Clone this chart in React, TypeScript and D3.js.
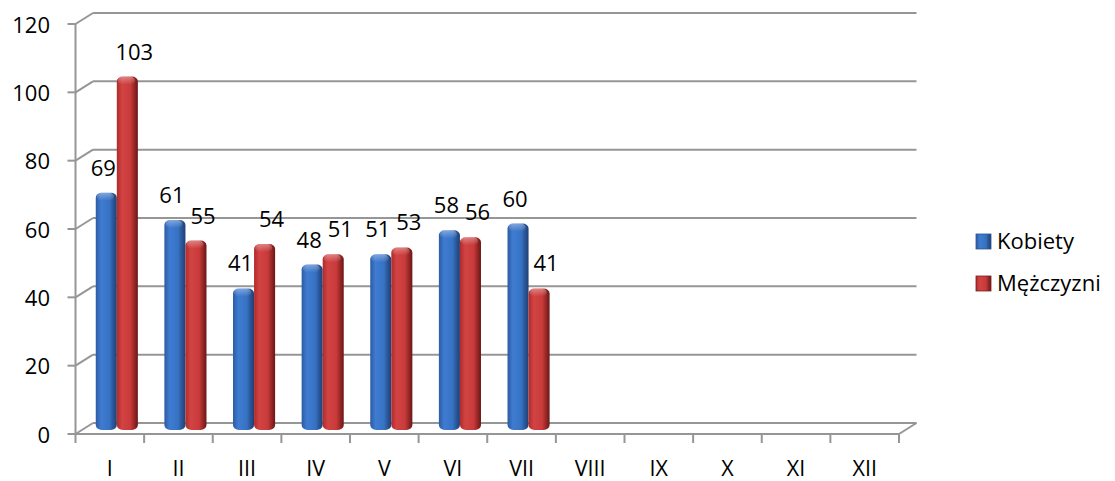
import React, { useRef, useEffect } from "react";
import * as d3 from "d3";

const categories = ["I", "II", "III", "IV", "V", "VI", "VII", "VIII", "IX", "X", "XI", "XII"];
const kobiety = [69, 61, 41, 48, 51, 58, 60];
const mezczyzni = [103, 55, 54, 51, 53, 56, 41];
const seriesNames = ["Kobiety", "Mężczyzni"];
const yTicks = [0, 20, 40, 60, 80, 100, 120];

const FONT = "'Open Sans', sans-serif";

const App = () => {
  const ref = useRef<SVGSVGElement>(null);

  useEffect(() => {
    const svg = d3.select(ref.current);
    svg.selectAll("*").remove();

    // front plane of the 3d box
    const left = 75.5;
    const right = 899;
    const depthX = 17.5;
    const depthY = -11;
    const barDx = 7;
    const barDy = -5.5;

    const x = d3.scaleBand().domain(categories).range([left, right]).padding(0);
    const y = d3.scaleLinear().domain([0, 120]).range([434, 24]);
    const inner = d3
      .scaleBand()
      .domain(seriesNames)
      .range([0, x.bandwidth()])
      .paddingInner(0)
      .paddingOuter(0.63);

    const defs = svg.append("defs");
    const grads = [
      { id: "gBlue", stops: ["#2b5ba3", "#3f7bd0", "#3773c4", "#2c5a9e", "#1f3f74"] },
      { id: "gRed", stops: ["#b02a2a", "#d24444", "#c93a3a", "#a02a2a", "#6a1717"] },
    ];
    grads.forEach((g) => {
      const lg = defs.append("linearGradient").attr("id", g.id).attr("x1", 0).attr("x2", 1).attr("y1", 0).attr("y2", 0);
      [0, 0.25, 0.65, 0.8, 1].forEach((o, i) =>
        lg.append("stop").attr("offset", o).attr("stop-color", g.stops[i])
      );
    });
    const cap = defs.append("linearGradient").attr("id", "gCap").attr("x1", 0).attr("x2", 0).attr("y1", 0).attr("y2", 1);
    cap.append("stop").attr("offset", 0).attr("stop-color", "#fff").attr("stop-opacity", 0.35);
    cap.append("stop").attr("offset", 1).attr("stop-color", "#fff").attr("stop-opacity", 0);

    const grid = svg.append("g").attr("stroke", "#969696").attr("stroke-width", 2).attr("fill", "none");

    // back wall gridlines + left wall diagonals
    yTicks.forEach((t) => {
      const yf = y(t);
      grid.append("line")
        .attr("x1", left + depthX).attr("x2", right + depthX)
        .attr("y1", yf + depthY).attr("y2", yf + depthY);
      grid.append("line")
        .attr("x1", left).attr("x2", left + depthX)
        .attr("y1", yf).attr("y2", yf + depthY);
    });
    // floor right edge
    grid.append("line")
      .attr("x1", right).attr("x2", right + depthX)
      .attr("y1", y(0)).attr("y2", y(0) + depthY);
    // front x axis
    grid.append("line").attr("x1", left).attr("x2", right).attr("y1", y(0)).attr("y2", y(0));
    // y axis
    grid.append("line").attr("x1", left).attr("x2", left).attr("y1", y(120)).attr("y2", y(0));
    yTicks.forEach((t) => {
      grid.append("line").attr("x1", left - 8).attr("x2", left).attr("y1", y(t)).attr("y2", y(t));
    });
    d3.range(categories.length + 1).forEach((i) => {
      const xx = left + i * x.step();
      grid.append("line").attr("x1", xx).attr("x2", xx).attr("y1", y(0)).attr("y2", y(0) + 9);
    });

    // y tick labels
    svg.append("g")
      .selectAll("text")
      .data(yTicks)
      .enter()
      .append("text")
      .attr("x", 50)
      .attr("y", (d) => y(d) + 8.5)
      .attr("text-anchor", "end")
      .attr("font-family", FONT)
      .attr("font-size", 22)
      .attr("fill", "#000")
      .text((d) => d);

    // category labels
    svg.append("g")
      .selectAll("text")
      .data(categories)
      .enter()
      .append("text")
      .attr("x", (d) => (x(d) as number) + x.bandwidth() / 2)
      .attr("y", 475.5)
      .attr("text-anchor", "middle")
      .attr("font-family", FONT)
      .attr("font-size", 21.5)
      .attr("fill", "#000")
      .text((d) => d);

    const series = [
      { name: seriesNames[0], values: kobiety, fill: "url(#gBlue)", labelDx: -3 },
      { name: seriesNames[1], values: mezczyzni, fill: "url(#gRed)", labelDx: 7 },
    ];

    const bars = svg.append("g");
    const labels = svg.append("g");
    const bw = inner.bandwidth();
    series.forEach((s) => {
      s.values.forEach((v, i) => {
        const cx = (x(categories[i]) as number) + (inner(s.name) as number) + barDx;
        const top = y(v) + barDy;
        const bottom = y(0) + barDy + 1.5;
        bars.append("rect")
          .attr("x", cx)
          .attr("y", top)
          .attr("width", bw)
          .attr("height", bottom - top)
          .attr("rx", 6)
          .attr("ry", 5)
          .attr("fill", s.fill);
        bars.append("rect")
          .attr("x", cx + 1)
          .attr("y", top)
          .attr("width", bw - 4)
          .attr("height", 8)
          .attr("rx", 5)
          .attr("ry", 4)
          .attr("fill", "url(#gCap)");
        labels.append("text")
          .attr("x", cx + bw / 2 + s.labelDx)
          .attr("y", top - 17)
          .attr("text-anchor", "middle")
          .attr("font-family", FONT)
          .attr("font-size", 22)
          .attr("fill", "#000")
          .text(v);
      });
    });

    // legend
    const legend = svg.append("g");
    series.forEach((s, i) => {
      const ly = 234 + i * 42;
      legend.append("rect")
        .attr("x", 976)
        .attr("y", ly)
        .attr("width", 15)
        .attr("height", 15)
        .attr("fill", s.fill)
        .attr("stroke", i === 0 ? "#2b5590" : "#7a1f1f")
        .attr("stroke-width", 0.8);
      legend.append("text")
        .attr("x", 997)
        .attr("y", ly + 15)
        .attr("font-family", FONT)
        .attr("font-size", 22)
        .attr("fill", "#000")
        .text(s.name);
    });
  }, []);

  return (
    <svg
      ref={ref}
      width={1115}
      height={481}
      style={{ position: "absolute", left: 0, top: 0, background: "#fff" }}
    />
  );
};

export default App;
